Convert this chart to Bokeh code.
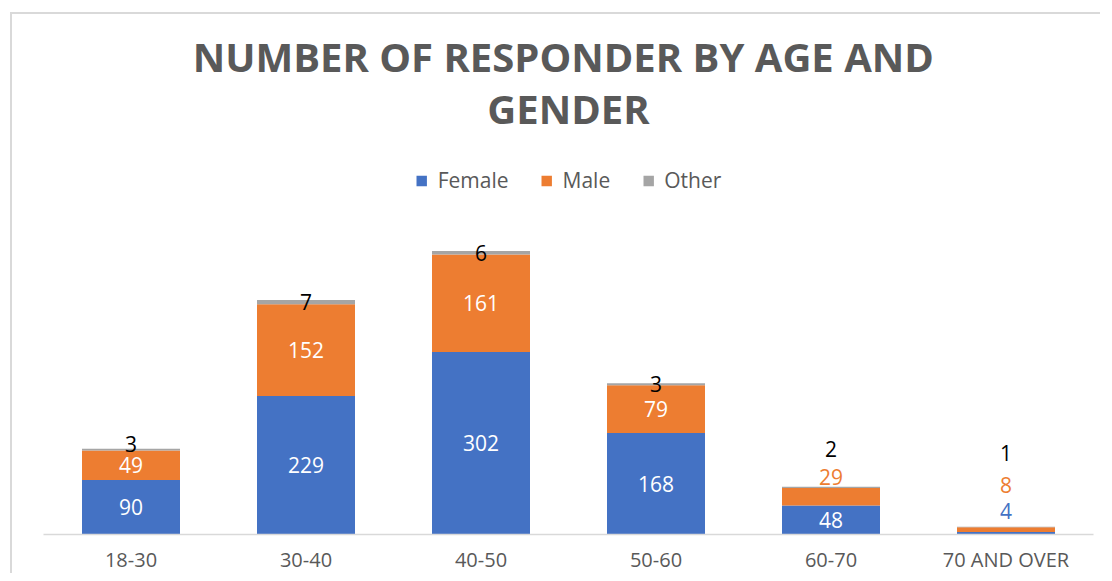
from bokeh.plotting import figure
from bokeh.models import ColumnDataSource, LabelSet, Title, Legend, LegendItem, FactorRange
from bokeh.core.properties import value
from bokeh.embed import file_html
from bokeh.resources import INLINE

# ---- data ----
age_groups = ["18-30", "30-40", "40-50", "50-60", "60-70", "70 AND OVER"]
female = [90, 229, 302, 168, 48, 4]
male = [49, 152, 161, 79, 29, 8]
other = [3, 7, 6, 3, 2, 1]
series_names = ["Female", "Male", "Other"]
series_colors = ["#4472C4", "#ED7D31", "#A5A5A5"]

# label placement tweaks (pixels upward) for labels moved outside small segments
label_nudge_px = {
    ("Other", "18-30"): 6,
    ("Male", "60-70"): 20,
    ("Other", "60-70"): 38,
    ("Female", "70 AND OVER"): 22,
    ("Male", "70 AND OVER"): 45,
    ("Other", "70 AND OVER"): 74,
}

FONT = "Open Sans"
TEXT_GRAY = "#595959"
PX_PER_UNIT = 0.603
FRAME_H = 381

src = ColumnDataSource(dict(cat=age_groups, Female=female, Male=male, Other=other))

p = figure(x_range=FactorRange(*age_groups), y_range=(0, FRAME_H / PX_PER_UNIT),
           width=1090, height=561, output_backend="svg", toolbar_location=None,
           min_border_left=31, min_border_right=9, min_border_top=138, min_border_bottom=0,
           background_fill_color="white", border_fill_color="white")
p.styles = {"border-left": "2px solid #d9d9d9", "border-top": "2px solid #d9d9d9",
            "margin-left": "10px", "margin-top": "12px"}

renderers = p.vbar_stack(series_names, x="cat", width=0.56, source=src,
                         color=series_colors, line_color=None)

legend = Legend(items=[LegendItem(label=n, renderers=[r]) for n, r in zip(series_names, renderers)],
                location="top_center", orientation="horizontal",
                label_text_font=FONT, label_text_font_size="21px", label_text_color=TEXT_GRAY,
                glyph_width=13, glyph_height=13, label_standoff=10, spacing=31,
                padding=0, margin=14, border_line_color=None, background_fill_alpha=0)
p.add_layout(legend)

# ---- data labels ----
lx, ly, lt, lc, ld = [], [], [], [], []
cols = [female, male, other]
for si, name in enumerate(series_names):
    for ci, cat in enumerate(age_groups):
        base = sum(cols[k][ci] for k in range(si))
        v = cols[si][ci]
        lx.append(cat)
        ly.append(base + v / 2)
        lt.append(str(v))
        dy = label_nudge_px.get((name, cat), 0)
        ld.append(dy)
        if name == "Other":
            lc.append("#000000")
        elif dy > 0:
            lc.append(series_colors[si])
        else:
            lc.append("#FFFFFF")
lsrc = ColumnDataSource(dict(x=lx, y=ly, text=lt, color=lc, dy=ld))
p.add_layout(LabelSet(x="x", y="y", text="text", source=lsrc, y_offset="dy",
                      text_color="color", text_align="center", text_baseline="middle",
                      text_font=value(FONT), text_font_size="21px"))

# ---- axes / grid ----
p.yaxis.visible = False
p.grid.visible = False
p.outline_line_color = None
ax = p.xaxis[0]
ax.axis_line_color = "#D9D9D9"
ax.axis_line_width = 1.5
ax.major_tick_line_color = None
ax.minor_tick_line_color = None
ax.major_tick_out = 0
ax.major_label_text_font = FONT
ax.major_label_text_font_size = "20px"
ax.major_label_text_color = TEXT_GRAY
ax.major_label_standoff = 11

# ---- titles ----
for txt, so in [("GENDER", 34), ("NUMBER OF RESPONDER  BY AGE AND", -45)]:
    p.add_layout(Title(text=txt, align="center", text_font=FONT, text_font_size="40px",
                       text_font_style="bold", text_color=TEXT_GRAY, standoff=so), "above")

open("out.html", "w").write(file_html(p, INLINE))
